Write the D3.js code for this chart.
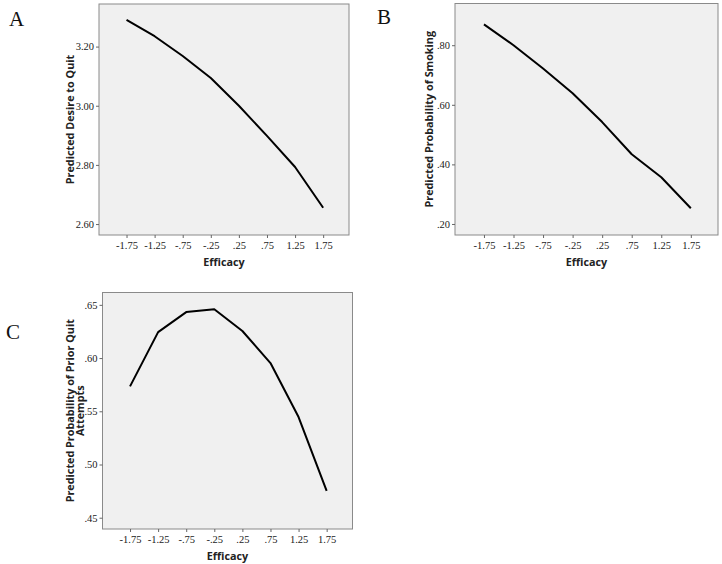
<!DOCTYPE html>
<html><head><meta charset="utf-8">
<script src="https://cdn.jsdelivr.net/npm/d3@7"></script>
<style>
html,body{margin:0;padding:0;background:#fff;}
svg{display:block;}
</style></head>
<body>
<svg id="chart" width="722" height="564"></svg>
<script>
// ---- data ----
const efficacy = [-1.75, -1.25, -0.75, -0.25, 0.25, 0.75, 1.25, 1.75];
const xTickLabels = ["-1.75", "-1.25", "-.75", "-.25", ".25", ".75", "1.25", "1.75"];

const desireToQuit = [3.290, 3.235, 3.168, 3.094, 3.000, 2.898, 2.793, 2.655];
const desireTicks = [2.60, 2.80, 3.00, 3.20];
const desireTickLabels = ["2.60", "2.80", "3.00", "3.20"];

const probSmoking = [0.870, 0.800, 0.722, 0.639, 0.542, 0.434, 0.357, 0.253];
const smokingTicks = [0.20, 0.40, 0.60, 0.80];
const smokingTickLabels = [".20", ".40", ".60", ".80"];

const probPriorQuit = [0.5734, 0.6244, 0.6432, 0.6458, 0.6254, 0.5953, 0.5446, 0.4753];
const priorTicks = [0.45, 0.50, 0.55, 0.60, 0.65];
const priorTickLabels = [".45", ".50", ".55", ".60", ".65"];

const panelLetters = ["A", "B", "C"];
const yTitles = [["Predicted Desire to Quit"], ["Predicted Probability of Smoking"], ["Predicted Probability of Prior Quit", "Attempts"]];
const xTitle = "Efficacy";

// ---- layout ----
const svg = d3.select("#chart");
const panels = [
  {values: desireToQuit, ticks: desireTicks, labels: desireTickLabels, yDom: [2.563, 3.344],
   box: [99, 349, 4, 235], letter: [9, 26], titleX: 74},
  {values: probSmoking, ticks: smokingTicks, labels: smokingTickLabels, yDom: [0.163, 0.940],
   box: [455, 718, 3.5, 235], letter: [377, 24], titleX: 433},
  {values: probPriorQuit, ticks: priorTicks, labels: priorTickLabels, yDom: [0.4394, 0.6616],
   box: [102.5, 352.5, 292.5, 529], letter: [6, 339], titleX: 74}
];

const xDom = [-2.24, 2.21];
const sans = "'Open Sans', 'DejaVu Sans', sans-serif";

panels.forEach((p, i) => {
  const [x0, x1, y0, y1] = p.box;
  const x = d3.scaleLinear().domain(xDom).range([x0, x1]);
  const y = d3.scaleLinear().domain(p.yDom).range([y1, y0]);
  const g = svg.append("g");

  g.append("rect").attr("x", x0).attr("y", y0).attr("width", x1 - x0).attr("height", y1 - y0)
    .attr("fill", "#f0f0f0").attr("stroke", "#8a8a8a").attr("stroke-width", 1);

  const xAxis = d3.axisBottom(x).tickValues(efficacy).tickSize(3).tickPadding(4)
    .tickFormat((d, k) => xTickLabels[k]);
  const gx = g.append("g").attr("transform", `translate(0,${y1})`).call(xAxis);
  const yAxis = d3.axisLeft(y).tickValues(p.ticks).tickSize(3).tickPadding(2)
    .tickFormat((d, k) => p.labels[k]);
  const gy = g.append("g").attr("transform", `translate(${x0},0)`).call(yAxis);
  [gx, gy].forEach(a => {
    a.select(".domain").remove();
    a.selectAll(".tick line").attr("stroke", "#666");
    a.selectAll(".tick text").attr("fill", "#1a1a1a").style("font-family", "'Liberation Serif', serif").style("font-size", "10.5px");
  });

  const line = d3.line().x((d, k) => x(efficacy[k])).y(d => y(d));
  g.append("path").datum(p.values).attr("d", line).attr("fill", "none")
    .attr("stroke", "#000").attr("stroke-width", 2).attr("stroke-linejoin", "round");

  // axis titles
  g.append("text").attr("x", (x0 + x1) / 2).attr("y", y1 + 31).attr("text-anchor", "middle")
    .style("font-family", sans).style("font-weight", "bold").style("font-size", "10.8px")
    .attr("fill", "#222").text(xTitle);

  const lines = yTitles[i];
  const ty = g.append("text").attr("transform", `translate(${p.titleX},${(y0 + y1) / 2}) rotate(-90)`)
    .attr("text-anchor", "middle")
    .style("font-family", sans).style("font-weight", "bold").style("font-size", "10.8px")
    .attr("fill", "#222");
  lines.forEach((t, k) => {
    ty.append("tspan").attr("x", 0).attr("dy", k === 0 ? 0 : "0.9em").text(t);
  });

  g.append("text").attr("x", p.letter[0]).attr("y", p.letter[1])
    .style("font-family", "'Liberation Serif', serif").style("font-size", "21px").attr("fill", "#111")
    .text(panelLetters[i]);
});
</script>
</body></html>
